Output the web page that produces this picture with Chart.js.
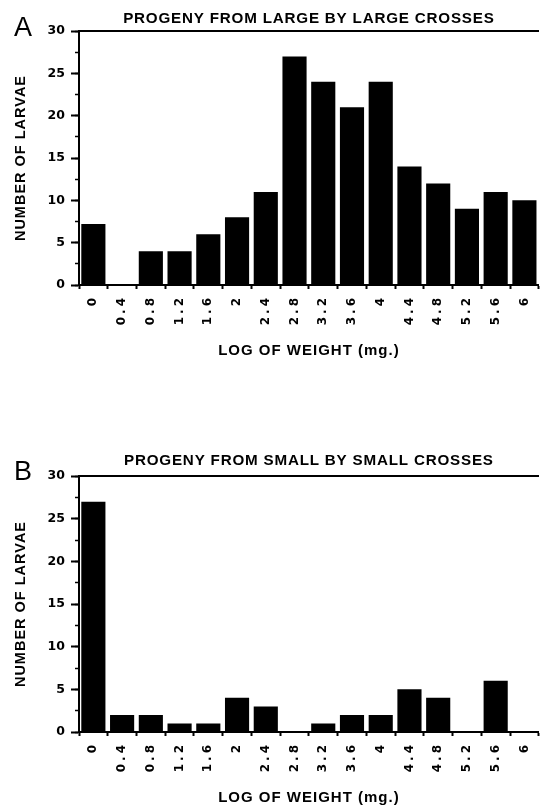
<!DOCTYPE html>
<html>
<head>
<meta charset="utf-8">
<script src="https://cdn.jsdelivr.net/npm/chart.js@4.4.0/dist/chart.umd.min.js"></script>
<style>
  html, body { margin: 0; padding: 0; background: #fff; overflow: hidden; }
  body { width: 540px; height: 807px; position: relative; }
  canvas { position: absolute; left: 0; }
  .letter { position: absolute; left: 14px; font: 400 27px "Liberation Sans", Arial, sans-serif; line-height: 27px; color: #000; }
</style>
</head>
<body>
<canvas id="chartA" width="545" height="365" style="top:0"></canvas>
<canvas id="chartB" width="545" height="367" style="top:440px"></canvas>
<div class="letter" style="top:14px">A</div>
<div class="letter" style="top:458px">B</div>

<script>
// log weight classes (x axis)
const weightLabels = ["0", "0.4", "0.8", "1.2", "1.6", "2", "2.4", "2.8", "3.2", "3.6", "4", "4.4", "4.8", "5.2", "5.6", "6"];

// number of larvae per class
const largeCrossCounts = [7.2, 0, 4, 4, 6, 8, 11, 27, 24, 21, 24, 14, 12, 9, 11, 10];
const smallCrossCounts = [27, 2, 2, 1, 1, 4, 3, 0, 1, 2, 2, 5, 4, 0, 6, 0];

const yMax = 30;
const yStep = 5;
const yMinorStep = 2.5;

Chart.defaults.font.family = "'Liberation Sans', Arial, sans-serif";
Chart.defaults.color = "#000";

const xTickFont = { family: "'DejaVu Sans', sans-serif", size: 12, weight: "bold" };
const yTickFont = { family: "'DejaVu Sans', sans-serif", size: 12.5, weight: "bold" };

// wrap a draw method so it runs with a given canvas letter spacing
function spaced(obj, method, px) {
  if (!obj || obj["_sp_" + method]) return;
  const orig = obj[method];
  obj[method] = function (...args) {
    this.ctx.save();
    this.ctx.letterSpacing = px + "px";
    orig.apply(this, args);
    this.ctx.restore();
  };
  obj["_sp_" + method] = true;
}

// the old typesetting is spaced out, the x tick labels most of all
const letterSpacing = {
  id: "letterSpacing",
  afterLayout(chart) {
    spaced(chart.titleBlock, "draw", 0.8);
    spaced(chart.scales.x, "drawLabels", 3);
    spaced(chart.scales.x, "drawTitle", 1);
    spaced(chart.scales.y, "drawTitle", 1);
  },
};

function makeChart(id, title, counts, titlePad, plotBottom, xTitlePad) {
  const canvas = document.getElementById(id);
  return new Chart(canvas.getContext("2d"), {
    type: "bar",
    data: {
      labels: weightLabels,
      datasets: [
        {
          data: counts,
          backgroundColor: "#000",
          borderWidth: 0,
          barPercentage: 0.84,
          categoryPercentage: 1,
        },
      ],
    },
    options: {
      responsive: false,
      animation: false,
      devicePixelRatio: 1,
      layout: { padding: 0 },
      plugins: {
        legend: { display: false },
        tooltip: { enabled: false },
        title: {
          display: true,
          text: title,
          fullSize: false,
          font: { size: 15.2, weight: "bold" },
          padding: titlePad,
        },
      },
      scales: {
        x: {
          offset: true,
          grid: { offset: true, drawOnChartArea: false, tickLength: 4, tickWidth: 2, tickColor: "#000" },
          border: { color: "#000", width: 2 },
          ticks: { font: xTickFont, minRotation: 90, maxRotation: 90, autoSkip: false, padding: 6 },
          title: {
            display: true,
            text: "LOG OF WEIGHT (mg.)",
            font: { size: 15, weight: "bold" },
            padding: { top: 0, bottom: xTitlePad },
          },
          afterFit(s) { s.height = canvas.height - plotBottom; },
        },
        xTop: {
          type: "linear",
          position: "top",
          min: 0,
          max: 1,
          ticks: { display: false },
          grid: { drawOnChartArea: false, drawTicks: false },
          border: { color: "#000", width: 2 },
          afterFit(s) { s.height = 0; },
        },
        y: {
          min: 0,
          max: yMax,
          weight: 1,
          ticks: { stepSize: yStep, font: yTickFont, padding: 6 },
          grid: { drawOnChartArea: false, tickLength: 8, tickWidth: 2, tickColor: "#000" },
          border: { color: "#000", width: 2 },
          title: {
            display: true,
            text: "NUMBER OF LARVAE",
            font: { size: 14.5, weight: "bold" },
            padding: { top: 12, bottom: 0 },
          },
          afterFit(s) { s.width = 79; },
        },
        yMinor: {
          position: "left",
          min: 0,
          max: yMax,
          weight: 0,
          ticks: { display: false, stepSize: yMinorStep },
          grid: { drawOnChartArea: false, tickLength: 4, tickWidth: 1.5, tickColor: "#000" },
          border: { display: false },
          afterFit(s) { s.width = 0; },
        },
      },
    },
    plugins: [letterSpacing],
  });
}

makeChart("chartA", "PROGENY FROM LARGE BY LARGE CROSSES", largeCrossCounts,
  { top: 9.4, bottom: 3.4 }, 285, 5);
makeChart("chartB", "PROGENY FROM SMALL BY SMALL CROSSES", smallCrossCounts,
  { top: 11.3, bottom: 6.5 }, 292, 0);
</script>
</body>
</html>
